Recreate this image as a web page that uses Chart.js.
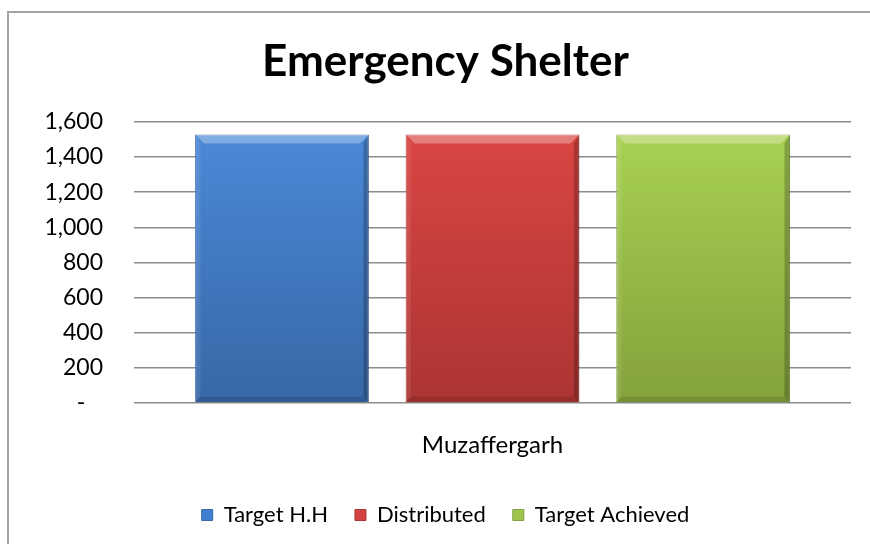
<!DOCTYPE html>
<html>
<head>
<meta charset="utf-8">
<script src="https://cdn.jsdelivr.net/npm/chart.js@4.4.1/dist/chart.umd.min.js"></script>
<style>
  html, body { margin: 0; padding: 0; background: #fff; overflow: hidden; }
  #wrap { position: relative; width: 870px; height: 544px; }
  #frame { position: absolute; left: 7px; top: 11px; width: 900px; height: 600px;
           border-left: 2px solid #a3a3a3; border-top: 2px solid #a3a3a3; }
  canvas { position: absolute; left: 0; top: 0; }
</style>
</head>
<body>
<div id="wrap">
  <div id="frame"></div>
  <canvas id="c" width="870" height="544"></canvas>
</div>
<script>
// ---- data ----
const titleText = 'Emergency Shelter';
const categories = ['Muzaffergarh'];
const seriesNames = ['Target H.H', 'Distributed', 'Target Achieved'];
const targetHH = [1528];
const distributed = [1528];
const targetAchieved = [1528];
const yTickValues = [0, 200, 400, 600, 800, 1000, 1200, 1400, 1600];
const yTickLabels = ['-   ', '200', '400', '600', '800', '1,000', '1,200', '1,400', '1,600'];

// ---- styles ----
const topColors = ['#4b8ad9', '#dc4643', '#aad353'];
const botColors = ['#3867a6', '#ab3533', '#83a23c'];
const midColors = ['#4180d0', '#d34240', '#9dc44c'];
const FONT = 'Lato, "Open Sans", sans-serif';

function gradFor(i) {
  return function (ctx) {
    const chart = ctx.chart;
    const area = chart.chartArea;
    if (!area) return midColors[i];
    const g = chart.ctx.createLinearGradient(0, area.top, 0, area.bottom);
    g.addColorStop(0, topColors[i]);
    g.addColorStop(1, botColors[i]);
    return g;
  };
}

const bevelPlugin = {
  id: 'bevel',
  afterDatasetsDraw(chart) {
    const ctx = chart.ctx;
    chart.data.datasets.forEach((ds, di) => {
      const meta = chart.getDatasetMeta(di);
      meta.data.forEach(bar => {
        const { x, y, base, width } = bar.getProps(['x', 'y', 'base', 'width'], true);
        const l = x - width / 2, r = x + width / 2, t = y, b = base;
        const bv = 9;
        ctx.save();
        ctx.beginPath();
        ctx.moveTo(l, t); ctx.lineTo(r, t); ctx.lineTo(r - bv, t + bv); ctx.lineTo(l + bv, t + bv); ctx.closePath();
        ctx.fillStyle = 'rgba(255,255,255,0.30)'; ctx.fill();
        ctx.beginPath();
        ctx.moveTo(l, t); ctx.lineTo(l + bv * 0.6, t + bv); ctx.lineTo(l + bv * 0.6, b - bv * 0.6); ctx.lineTo(l, b); ctx.closePath();
        ctx.fillStyle = 'rgba(255,255,255,0.08)'; ctx.fill();
        ctx.beginPath();
        ctx.moveTo(r, t); ctx.lineTo(r - bv * 0.6, t + bv); ctx.lineTo(r - bv * 0.6, b - bv * 0.6); ctx.lineTo(r, b); ctx.closePath();
        ctx.fillStyle = 'rgba(0,0,0,0.22)'; ctx.fill();
        ctx.beginPath();
        ctx.moveTo(l, b); ctx.lineTo(r, b); ctx.lineTo(r - bv * 0.6, b - bv * 0.6); ctx.lineTo(l + bv * 0.6, b - bv * 0.6); ctx.closePath();
        ctx.fillStyle = 'rgba(0,0,0,0.12)'; ctx.fill();
        ctx.restore();
      });
    });
  }
};

const seriesValues = [targetHH, distributed, targetAchieved];

new Chart(document.getElementById('c'), {
  type: 'bar',
  data: {
    labels: categories,
    datasets: seriesNames.map((name, i) => ({
      label: name,
      data: seriesValues[i],
      backgroundColor: gradFor(i),
      borderColor: botColors[i],
      borderWidth: 1,
      categoryPercentage: 0.881,
      barPercentage: 0.825
    }))
  },
  options: {
    responsive: false,
    animation: false,
    layout: { padding: { left: 40, right: 19, top: 0, bottom: 8 } },
    plugins: {
      title: {
        display: true,
        text: titleText,
        color: '#000',
        font: { family: FONT, size: 44, weight: 'bold' },
        padding: { top: 35, bottom: 34 }
      },
      legend: {
        position: 'bottom',
        labels: {
          color: '#000',
          font: { family: FONT, size: 22 },
          boxWidth: 11,
          boxHeight: 11,
          padding: 27,
          generateLabels(chart) {
            return chart.data.datasets.map((ds, i) => ({
              text: ds.label,
              fillStyle: midColors[i],
              strokeStyle: botColors[i],
              lineWidth: 1,
              datasetIndex: i,
              hidden: false
            }));
          }
        }
      },
      tooltip: { enabled: false }
    },
    scales: {
      x: {
        grid: { display: false, drawTicks: false },
        border: { display: false },
        ticks: { color: '#000', font: { family: FONT, size: 24 }, padding: 28 },
        afterFit(scale) { scale.height = 74; }
      },
      y: {
        min: 0,
        max: 1600,
        afterBuildTicks(scale) { scale.ticks = yTickValues.map(v => ({ value: v })); },
        grid: { color: '#8c8c8c', lineWidth: 1.5, drawTicks: false },
        border: { display: false },
        ticks: {
          color: '#000',
          font: { family: FONT, size: 23 },
          padding: 31,
          callback(value) {
            const idx = yTickValues.indexOf(value);
            return idx >= 0 ? yTickLabels[idx] : '';
          }
        },
        afterFit(scale) { scale.width = 94; }
      }
    }
  },
  plugins: [bevelPlugin]
});
</script>
</body>
</html>
